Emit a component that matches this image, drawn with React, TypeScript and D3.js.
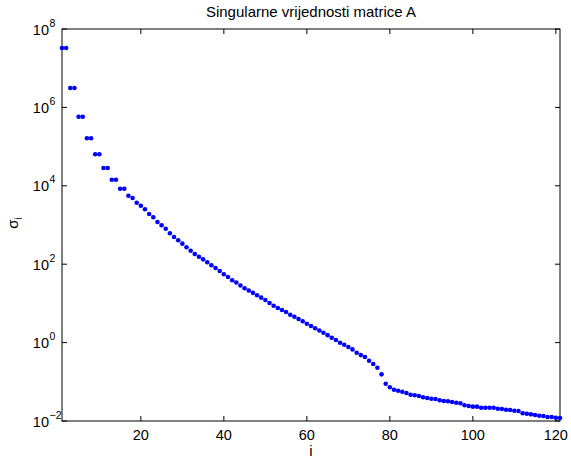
import React from "react";
import * as d3 from "d3";

const titleText = "Singularne vrijednosti matrice A";
const xLabel = "i";

// singular values sigma_i, i = 1..121
const sigma: number[] = [
  3.28e7, 3.28e7, 3.13e6, 3.13e6, 5.79e5, 5.79e5, 1.63e5, 1.63e5,
  6.36e4, 6.36e4, 2.85e4, 2.85e4, 1.43e4, 1.43e4, 8.38e3, 8.38e3,
  5590, 4880, 3710, 3110, 2520, 1910, 1570, 1190, 982, 805,
  614, 494, 407, 334, 270, 221, 182, 155, 133, 112,
  93.7, 80, 67.1, 55.2, 47.1, 38.8, 34.0, 28.6, 24.4, 21.3,
  18.6, 16.1, 14.0, 12.2, 10.2, 8.73, 7.63, 6.79, 6.04, 5.15,
  4.58, 4.0, 3.49, 3.03, 2.65, 2.32, 2.04, 1.78, 1.55, 1.33,
  1.16, 0.99, 0.88, 0.77, 0.67, 0.55, 0.48, 0.43, 0.345, 0.284,
  0.229, 0.155, 0.0895, 0.0724, 0.0628, 0.0593, 0.0558, 0.0518, 0.0469, 0.0453,
  0.0435, 0.0403, 0.0386, 0.0371, 0.0364, 0.0337, 0.0324, 0.0318, 0.0305, 0.0293,
  0.0283, 0.0252, 0.0242, 0.0232, 0.0232, 0.0218, 0.0218, 0.0218, 0.0218, 0.0206,
  0.0202, 0.0194, 0.0191, 0.0183, 0.018, 0.0157, 0.0153, 0.0148, 0.0142, 0.0136,
  0.0134, 0.0127, 0.0127, 0.0121, 0.0119,
];

const xTicks = [20, 40, 60, 80, 100, 120];
const yTicks = [1e-2, 1e0, 1e2, 1e4, 1e6, 1e8];
const yTickExponents = ["\u22122", "0", "2", "4", "6", "8"];

const W = 571;
const H = 459;
const left = 62;
const right = 560;
const top = 29;
const bottom = 421;
const font = "'Liberation Sans', Arial, Helvetica, sans-serif";

export default function App() {
  const x = d3.scaleLinear().domain([1, sigma.length]).range([left, right]);
  const y = d3.scaleLog().domain([1e-2, 1e8]).range([bottom, top]);
  const tickLen = 5;

  return (
    <svg
      width={W}
      height={H}
      style={{ position: "absolute", left: 0, top: 0, background: "#fff" }}
      fontFamily={font}
    >
      <rect x={0} y={0} width={W} height={H} fill="#fff" />
      {/* ticks */}
      {xTicks.map((t) => (
        <g key={"x" + t}>
          <line x1={x(t)} x2={x(t)} y1={bottom} y2={bottom - tickLen} stroke="#000" />
          <line x1={x(t)} x2={x(t)} y1={top} y2={top + tickLen} stroke="#000" />
          <text x={x(t)} y={440} textAnchor="middle" fontSize={14.5} fill="#000">
            {t}
          </text>
        </g>
      ))}
      {yTicks.map((t, k) => (
        <g key={"y" + t}>
          <line x1={left} x2={left + tickLen} y1={y(t)} y2={y(t)} stroke="#000" />
          <line x1={right} x2={right - tickLen} y1={y(t)} y2={y(t)} stroke="#000" />
          <text x={49} y={y(t) + 5.5} textAnchor="end" fontSize={14.5} fill="#000">
            10
          </text>
          <text x={49.5} y={y(t) - 2.5} textAnchor="start" fontSize={10.5} fill="#000">
            {yTickExponents[k]}
          </text>
        </g>
      ))}
      {/* box */}
      <rect
        x={left}
        y={top}
        width={right - left}
        height={bottom - top}
        fill="none"
        stroke="#000"
        strokeWidth={1}
      />
      {/* data */}
      <g fill="#0000ff">
        {sigma.map((v, i) => (
          <circle key={i} cx={x(i + 1)} cy={y(v)} r={2.3} />
        ))}
      </g>
      {/* title */}
      <text x={(left + right) / 2} y={17} textAnchor="middle" fontSize={15} fill="#000">
        {titleText}
      </text>
      {/* x label */}
      <text x={(left + right) / 2} y={456} textAnchor="middle" fontSize={15} fill="#000">
        {xLabel}
      </text>
      {/* y label */}
      <text
        transform={`translate(18, 223) rotate(-90)`}
        textAnchor="middle"
        fontSize={15}
        fill="#000"
      >
        σ
        <tspan fontSize={10.5} dy={4}>
          i
        </tspan>
      </text>
    </svg>
  );
}
